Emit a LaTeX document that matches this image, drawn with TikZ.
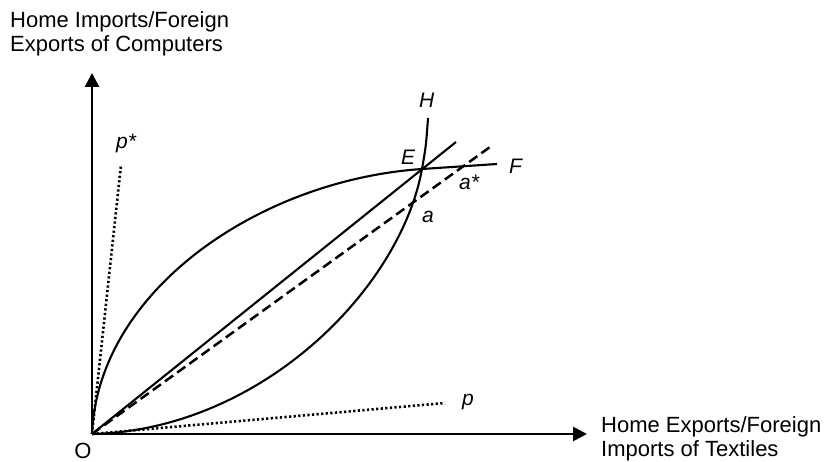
\documentclass[tikz,border=0pt]{standalone}
\usepackage{fontspec}
\setmainfont{Liberation Sans}
\usetikzlibrary{arrows.meta,positioning}

\begin{document}
\begin{tikzpicture}[
  x=1pt, y=-1pt,
  font=\fontsize{22}{24.5}\selectfont,
  axis/.style={-{Triangle[length=14pt, width=14pt]}, line width=2.8pt},
  curve/.style={line width=2.1pt},
  ray/.style={line width=2.1pt},
  dashray/.style={line width=2.5pt, dash pattern=on 10pt off 5pt},
  dotray/.style={line width=2.6pt, dash pattern=on 2.2pt off 2.4pt},
  axislabel/.style={align=left, anchor=north west, inner sep=0pt},
  pointlabel/.style={font=\fontsize{21}{24}\selectfont\itshape, anchor=base west, inner sep=0pt}
]
\useasboundingbox (0,0) rectangle (830,462);

% axes
\coordinate (O) at (92,434);
\coordinate (ytip) at (92,73);
\coordinate (xtip) at (587,434);
\draw[axis] (O) -- (ytip);
\draw[axis] (O) -- (xtip);
\node[axislabel] (ylabel) at (10,11) {Home Imports/Foreign\\Exports of Computers};
\node[axislabel] (xlabel) at (601,416) {Home Exports/Foreign\\Imports of Textiles};
\node[anchor=base] (olabel) at (83,458) {O};

% price lines
\coordinate (pstar) at (121,165);
\coordinate (pend) at (445,403);
\draw[dotray] (O) -- (pstar);
\draw[dotray] (O) -- (pend);
\node[pointlabel] (pstarlabel) at (116,149) {p*};
\node[pointlabel] (plabel) at (462,405) {p};

% offer curves
\coordinate (E) at (422,169);
\coordinate (Fend) at (497,164);
\coordinate (Hend) at (428,118);
\draw[curve] (O) .. controls (98,290) and (260,180) .. (E)
  .. controls (460,166) .. (Fend);
\draw[curve] (O) .. controls (260,430) and (400,290) .. (E)
  .. controls (426,146) .. (Hend);
\node[pointlabel] (Flabel) at (509,174) {F};
\node[pointlabel] (Hlabel) at (419,108) {H};
\node[pointlabel] (Elabel) at (401,165) {E};

% terms of trade rays
\coordinate (rayend) at (456,142);
\coordinate (dashend) at (490,147);
\draw[ray] (O) -- (rayend);
\draw[dashray] (O) -- (dashend);
\node[pointlabel] (astarlabel) at (459,190) {a*};
\node[pointlabel] (alabel) at (422,223) {a};
\end{tikzpicture}
\end{document}
